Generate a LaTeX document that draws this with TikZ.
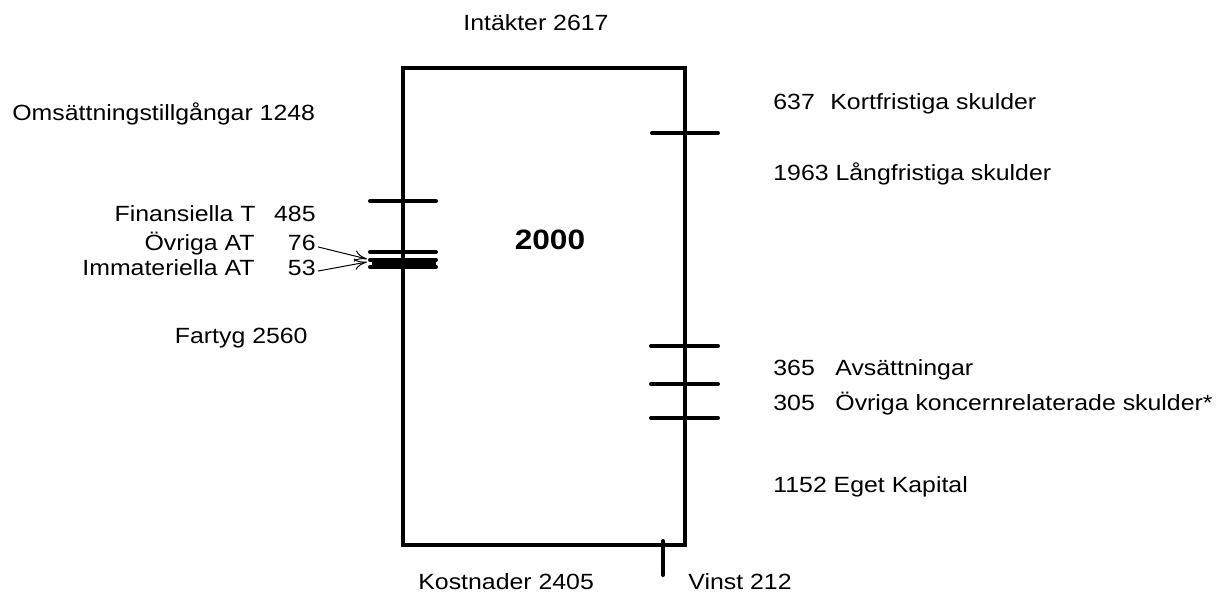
\documentclass[tikz,border=0pt]{standalone}
\usepackage{fontspec}
\setmainfont[FakeStretch=1.13]{Liberation Sans}
\usetikzlibrary{arrows.meta,positioning}

\begin{document}
\begin{tikzpicture}[
    x=0.5pt, y=-0.5pt,
    txt/.style={inner sep=0pt, font=\fontsize{11}{13}\selectfont},
    bar/.style={line width=2pt, line cap=round},
    frame/.style={line width=2pt},
    arrow/.style={-{To[length=2.2mm,width=2mm]}, line width=0.5pt},
]
    \useasboundingbox (0,0) rectangle (1221,594);

    % the account box
    \draw[frame] (403,68) rectangle (685,545);

    % left side (assets)
    \draw[bar] (370,201) -- (436,201);
    \draw[bar] (370,252) -- (436,252);
    \draw[bar] (370,260) -- (436,260);
    \draw[bar] (370,267) -- (436,267);
    \draw[line width=3pt] (372,263.5) -- (436,263.5);

    % right side (liabilities)
    \draw[bar] (652,133) -- (718,133);
    \draw[bar] (651,346) -- (718,346);
    \draw[bar] (651,384) -- (718,384);
    \draw[bar] (651,418) -- (718,418);

    % result
    \draw[bar] (663,541) -- (663,575);

    \node[txt, anchor=base west] (intakt) at (463,30) {Intäkter 2617};
    \node[txt, font=\fontsize{14}{17}\selectfont\bfseries] (sum) at (550,240) {2000};

    \node[txt, anchor=base west] (oms) at (12,120) {Omsättningstillgångar 1248};
    \node[txt, anchor=base east] (fin) at (256,221) {Finansiella T};
    \node[txt, anchor=base east] (finv) at (316,221) {485};
    \node[txt, anchor=base east] (ovr) at (255,250) {Övriga AT};
    \node[txt, anchor=base east] (ovrv) at (316,250) {76};
    \node[txt, anchor=base east] (imm) at (255,275) {Immateriella AT};
    \node[txt, anchor=base east] (immv) at (316,275) {53};
    \node[txt, anchor=base east] (fart) at (308,343) {Fartyg 2560};

    \node[txt, anchor=base west] (kortv) at (773,109) {637};
    \node[txt, anchor=base west] (kort) at (830,109) {Kortfristiga skulder};
    \node[txt, anchor=base west] (lang) at (773,180) {1963 Långfristiga skulder};
    \node[txt, anchor=base west] (avsv) at (773,375) {365};
    \node[txt, anchor=base west] (avs) at (835,375) {Avsättningar};
    \node[txt, anchor=base west] (konv) at (773,410) {305};
    \node[txt, anchor=base west] (kon) at (835,410) {Övriga koncernrelaterade skulder*};
    \node[txt, anchor=base west] (eget) at (773,492) {1152 Eget Kapital};

    \node[txt, anchor=base west] (kost) at (418,589) {Kostnader 2405};
    \node[txt, anchor=base west] (vinst) at (688,589) {Vinst 212};

    \coordinate (tipa) at (367,259);
    \coordinate (tipb) at (367,262);
    \draw[arrow, shorten <=1pt] ([yshift=-2pt]ovrv.east) -- (tipa);
    \draw[arrow, shorten <=1pt] ([yshift=-2pt]immv.east) -- (tipb);
\end{tikzpicture}
\end{document}
